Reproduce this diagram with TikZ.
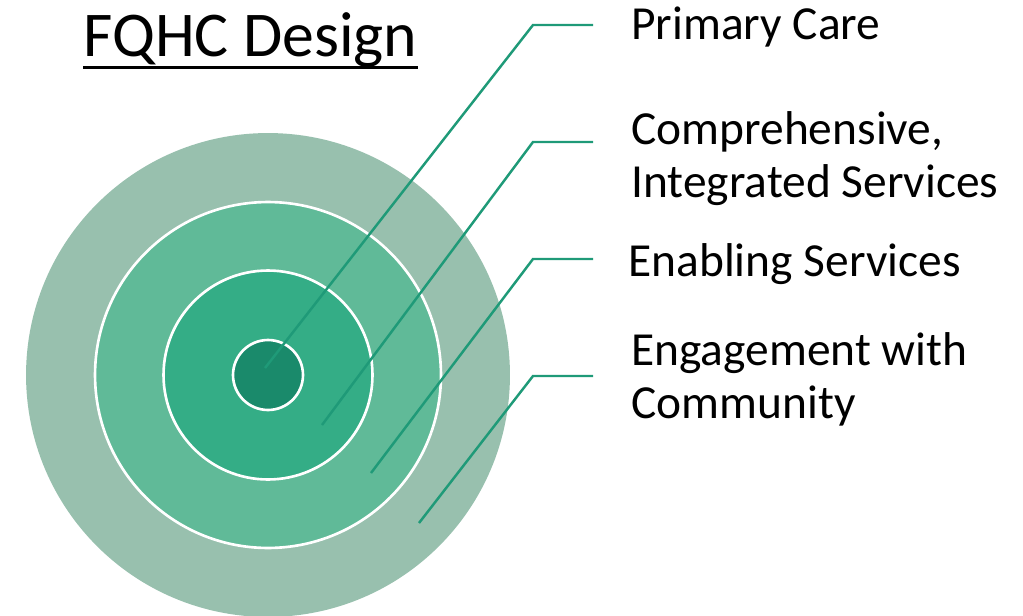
\documentclass[tikz,border=0pt]{standalone}
\usepackage{fontspec}
\setmainfont{Carlito}
\usepackage{tikz}
\usetikzlibrary{arrows.meta}

\definecolor{ringouter}{RGB}{152,192,174}
\definecolor{ringmid}{RGB}{96,186,152}
\definecolor{ringinner}{RGB}{52,173,134}
\definecolor{ringcore}{RGB}{26,138,107}
\definecolor{leadcol}{RGB}{31,154,120}

\tikzset{
    ring/.style={draw=white, line width=1.5pt},
    leader/.style={leadcol, line width=1.4pt},
    itemtext/.style={inner sep=0pt, align=left, anchor=base west,
        font=\fontsize{27pt}{29.8pt}\selectfont},
}

\begin{document}
\begin{tikzpicture}[x=0.02cm, y=-0.02cm]
    \useasboundingbox (0,0) rectangle (1023,615);

    % the four rings
    \fill[ringouter] (268,375) circle (4.84cm);
    \filldraw[ringmid, ring] (268,375) circle (3.46cm);
    \filldraw[ringinner, ring] (268,375) circle (2.09cm);
    \filldraw[ringcore, ring] (268,375) circle (0.70cm);

    % title
    \node[inner sep=0pt, anchor=base west, font=\fontsize{36.3pt}{40pt}\selectfont] (title) at (83,57) {FQHC Design};
    \draw[line width=1.7pt] ([yshift=-6.2pt]title.base west) -- ([yshift=-6.2pt]title.base east);

    % labels (base = last line)
    \node[itemtext] (primary) at (631,40) {Primary Care};
    \node[itemtext] (compre) at (631,197) {Comprehensive,\\Integrated Services};
    \node[itemtext] (enabling) at (628,276) {Enabling Services};
    \node[itemtext] (engage) at (631,418) {Engagement with\\Community};

    % leader lines
    \coordinate (in1) at (265,368);
    \coordinate (in2) at (322,425);
    \coordinate (in3) at (371,473);
    \coordinate (in4) at (419,523);
    \coordinate (out1) at (593,25);
    \coordinate (out2) at (593,142);
    \coordinate (out3) at (593,259);
    \coordinate (out4) at (593,376);
    \draw[leader] (in1) -- (533,25) -- (out1);
    \draw[leader] (in2) -- (533,142) -- (out2);
    \draw[leader] (in3) -- (533,259) -- (out3);
    \draw[leader] (in4) -- (533,376) -- (out4);
\end{tikzpicture}
\end{document}
